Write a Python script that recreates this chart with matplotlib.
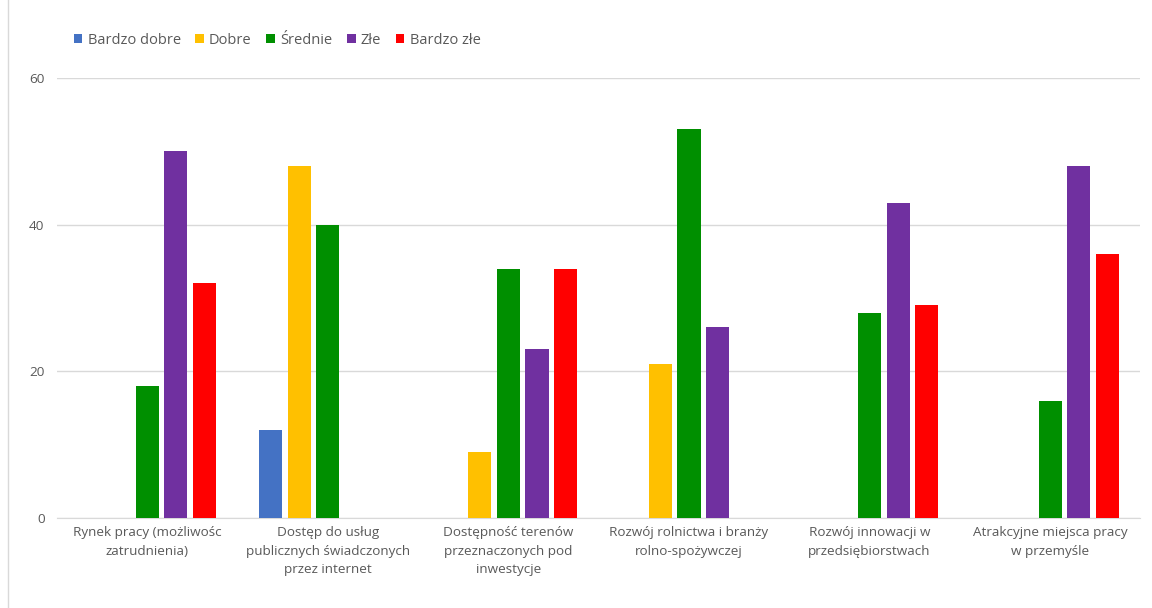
import matplotlib
matplotlib.use('Agg')
import matplotlib.pyplot as plt
import numpy as np
from matplotlib.patches import Rectangle

plt.rcParams['font.family'] = ['Open Sans', 'DejaVu Sans']

# dane
categories = [
    'Rynek pracy (możliwośc\nzatrudnienia)',
    'Dostęp do usług\npublicznych świadczonych\nprzez internet',
    'Dostępność terenów\nprzeznaczonych pod\ninwestycje',
    'Rozwój rolnictwa i branży\nrolno-spożywczej',
    'Rozwój innowacji w\nprzedsiębiorstwach',
    'Atrakcyjne miejsca pracy\nw przemyśle',
]
series_names = ['Bardzo dobre', 'Dobre', 'Średnie', 'Złe', 'Bardzo złe']
bardzo_dobre = [0, 12, 0, 0, 0, 0]
dobre = [0, 48, 9, 21, 0, 0]
srednie = [18, 40, 34, 53, 28, 16]
zle = [50, 0, 23, 26, 43, 48]
bardzo_zle = [32, 0, 34, 0, 29, 36]
colors = ['#4472C4', '#FFC000', '#008F00', '#7030A0', '#FF0000']
y_ticks = [0, 20, 40, 60]

values = [bardzo_dobre, dobre, srednie, zle, bardzo_zle]

fig = plt.figure(figsize=(11.52, 6.08), dpi=100)
ax = fig.add_axes([0.0495, 0.148, 0.9405, 0.724])

x = np.arange(len(categories))
step = 0.158
width = 0.128
for i, (name, vals, c) in enumerate(zip(series_names, values, colors)):
    ax.bar(x + (i - 2) * step, vals, width, color=c, label=name, zorder=3)

ax.set_xlim(-0.5, len(categories) - 0.5)
ax.set_ylim(0, 60)
ax.set_yticks(y_ticks)
ax.set_xticks(x)
ax.set_xticklabels(categories, linespacing=1.55)
ax.tick_params(axis='both', length=0, labelsize=9.7, colors='#595959')
ax.tick_params(axis='x', pad=6)
ax.tick_params(axis='y', pad=9)
ax.grid(axis='y', color='#d9d9d9', linewidth=1, zorder=0)
for s in ['top', 'right', 'left']:
    ax.spines[s].set_visible(False)
ax.spines['bottom'].set_color('#d9d9d9')

leg = ax.legend(loc='lower left', bbox_to_anchor=(0.01, 1.055), ncol=5,
                frameon=False, fontsize=10.5, handlelength=0.6, handleheight=0.6,
                handletextpad=0.35, columnspacing=1.0, borderaxespad=0)
for t in leg.get_texts():
    t.set_color('#595959')

# ramka obszaru wykresu
fig.patches.append(Rectangle((0.007, -0.01), 1.5, 1.5, transform=fig.transFigure,
                             fill=False, edgecolor='#d9d9d9', linewidth=1))

plt.savefig('out.png', dpi=100)
plt.close()
